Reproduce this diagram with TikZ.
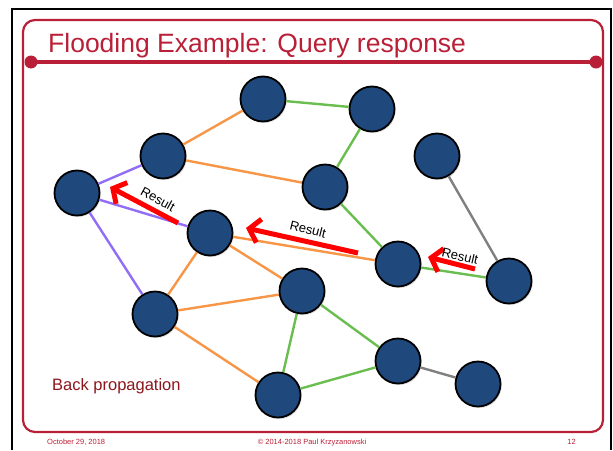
\documentclass[tikz,border=0pt]{standalone}
\usepackage{fontspec}
\setmainfont{Liberation Sans}
\usetikzlibrary{arrows.meta,shadows}
\definecolor{SlideRed}{RGB}{185,32,55}
\definecolor{NoteRed}{RGB}{140,22,28}
\definecolor{PeerBlue}{RGB}{31,73,125}
\definecolor{EdgeOrange}{RGB}{247,150,70}
\definecolor{EdgeGreen}{RGB}{106,190,80}
\definecolor{EdgePurple}{RGB}{145,110,245}
\definecolor{EdgeGray}{RGB}{128,128,128}
\tikzset{
  peer/.style={circle, draw=black, line width=1.8pt, fill=PeerBlue,
    minimum size=45pt, inner sep=0pt,
    drop shadow={shadow xshift=1.2pt, shadow yshift=-1.5pt, opacity=0.25}},
  olink/.style={draw=EdgeOrange, line width=2.4pt},
  glink/.style={draw=EdgeGreen, line width=2.4pt},
  plink/.style={draw=EdgePurple, line width=2.4pt},
  xlink/.style={draw=EdgeGray, line width=2.4pt},
  result/.style={draw=red, line width=5pt, -{Straight Barb[length=10pt,width=24pt]}},
  reslbl/.style={inner sep=0pt, font=\fontsize{13}{13}\selectfont},
  dot/.style={circle, fill=SlideRed, minimum size=13pt, inner sep=0pt},
  foot/.style={inner sep=0pt, text=SlideRed, font=\fontsize{7.5}{8}\selectfont}
}
\begin{document}
\begin{tikzpicture}[x=1pt, y=-1pt]
  \useasboundingbox (0,0) rectangle (613,450);
  % slide frame
  \draw[line width=2pt] (12,450) -- (12,9) -- (610.5,9) -- (610.5,450);
  \draw[SlideRed, line width=2.2pt, rounded corners=12pt] (23,20) rectangle (603,432);
  \node[dot] (dl) at (31,62) {};
  \node[dot] (dr) at (596,62) {};
  \draw[SlideRed, line width=4pt] (dl.center) -- (dr.center);
  \node[anchor=base west, inner sep=0pt, text=SlideRed, font=\fontsize{26.5}{30}\selectfont] (title) at (48,52) {Flooding Example: Query response};

  % peers
  \node[peer] (a) at (263,99) {};
  \node[peer] (b) at (372,109) {};
  \node[peer] (c) at (163,156) {};
  \node[peer] (d) at (437,156) {};
  \node[peer] (e) at (325,187) {};
  \node[peer] (f) at (77,193) {};
  \node[peer] (g) at (210,233) {};
  \node[peer] (h) at (398,264) {};
  \node[peer] (i) at (509,281) {};
  \node[peer] (j) at (302,291) {};
  \node[peer] (k) at (155,314) {};
  \node[peer] (l) at (398,361) {};
  \node[peer] (m) at (478,384) {};
  \node[peer] (n) at (278,395) {};

  % links
  \draw[glink] (a) -- (b);
  \draw[olink] (a) -- (c);
  \draw[olink] (c) -- (e);
  \draw[glink] (b) -- (e);
  \draw[plink] (c) -- (f);
  \draw[plink] (f) -- (g);
  \draw[plink] (f) -- (k);
  \draw[olink] (g) -- (h);
  \draw[glink] (e) -- (h);
  \draw[glink] (h) -- (i);
  \draw[xlink] (d) -- (i);
  \draw[olink] (g) -- (k);
  \draw[olink] (g) -- (j);
  \draw[olink] (k) -- (j);
  \draw[olink] (k) -- (n);
  \draw[glink] (j) -- (n);
  \draw[glink] (j) -- (l);
  \draw[glink] (n) -- (l);
  \draw[xlink] (l) -- (m);

  % results going back
  \coordinate (r1s) at (178,223);
  \coordinate (r1e) at (110,187);
  \coordinate (r2s) at (358,253);
  \coordinate (r2e) at (246,228);
  \coordinate (r3s) at (475,269);
  \coordinate (r3e) at (428,257);
  \draw[result] (r1s) -- (r1e);
  \draw[result] (r2s) -- (r2e);
  \draw[result] (r3s) -- (r3e);
  \node[reslbl, rotate=-29] (l1) at (158,199) {Result};
  \node[reslbl, rotate=-14] (l2) at (308,229) {Result};
  \node[reslbl, rotate=-13] (l3) at (460,256) {Result};

  \node[anchor=base west, inner sep=0pt, text=NoteRed, font=\fontsize{16.5}{18}\selectfont] (back) at (52,390) {Back propagation};

  % footer
  \node[foot, anchor=base west] (date) at (47,444) {October 29, 2018};
  \node[foot, anchor=base] (copy) at (312,444) {© 2014-2018 Paul Krzyzanowski};
  \node[foot, anchor=base east] (page) at (576,444) {12};
\end{tikzpicture}
\end{document}
